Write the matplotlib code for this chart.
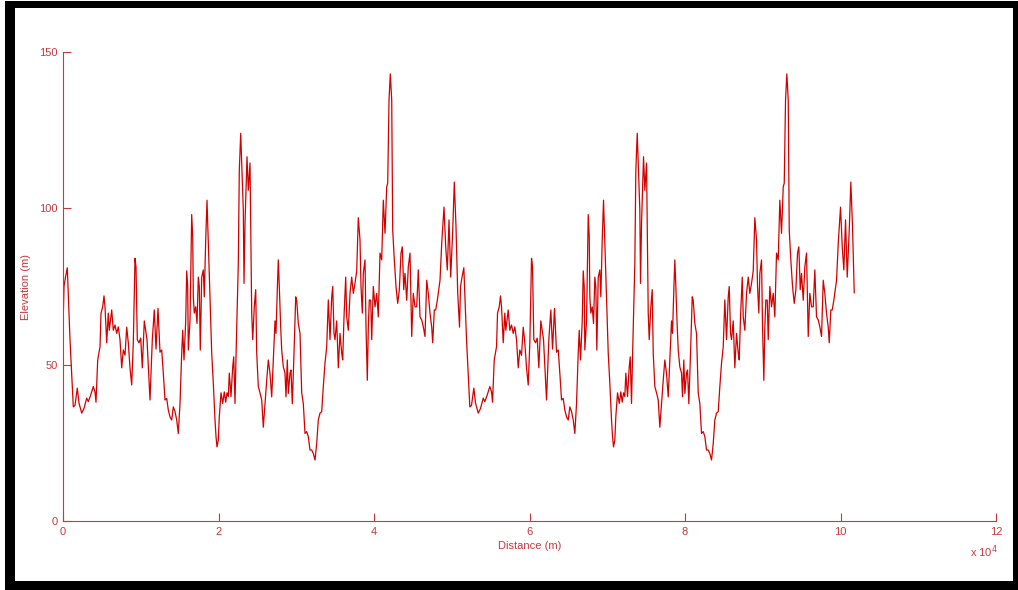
import matplotlib.pyplot as plt
import numpy as np
from matplotlib.patches import Rectangle

# one lap of the elevation profile: distance (m) and elevation (m)
lap_distance = [
    0, 129, 322, 553, 900, 1119, 1325, 1543, 1839, 2058, 2405, 2701, 3048, 3254,
    3563, 3897, 4116, 4244, 4463, 4759, 4888, 5106, 5273, 5402, 5621, 5826, 5955,
    6264, 6469, 6688, 6907, 7113, 7331, 7550, 7756, 7974, 8193, 8399, 8618, 8836,
    9042, 9261, 9389, 9556, 9775, 9994, 10199, 10457, 10637, 10804, 11190, 11486,
    11743, 11962, 12219, 12476, 12695, 12901, 13119, 13338, 13544, 13762, 13981,
    14187, 14405, 14624, 14830, 15049, 15267, 15396, 15563, 15782, 15910, 16039,
    16116, 16335, 16553, 16682, 16759, 16888, 17068, 17235, 17402, 17531, 17659,
    17840, 18045, 18174, 18354, 18521, 18688, 18907, 19126, 19332, 19550, 19679,
    19807, 19975, 20103, 20322, 20541, 20746, 20926, 21094, 21261, 21389, 21608,
    21827, 21955, 22122, 22251, 22418, 22547, 22675, 22856, 23023, 23190, 23280,
    23409, 23666, 23833, 24052, 24271, 24399, 24605, 24785, 24914, 25120, 25338,
    25557, 25763, 25981, 26200, 26406, 26624, 26843, 27049, 27267, 27396, 27563,
    27692, 27820, 28000, 28129, 28335, 28554, 28682, 28849, 28978, 29197, 29325,
    29492, 29711, 29930, 30058, 30264, 30483, 30701, 30907, 31126, 31344, 31550,
    31769, 31988, 32193, 32412, 32631, 32836, 33055, 33274, 33480, 33698, 33917,
    34123, 34342, 34560, 34689, 34856, 34985, 35203, 35409, 35628, 35846, 35975,
    36142, 36361, 36490, 36695, 36914, 37133, 37338, 37557, 37776, 37981, 38200,
    38329, 38496, 38625, 38843, 38972, 39139, 39268, 39397, 39577, 39705, 39911,
    40130, 40348, 40554, 40773, 40992, 41197, 41416, 41635, 41763, 41930, 42098,
    42278, 42406, 42612, 42830, 43049, 43255, 43474, 43641, 43821, 43988, 44207,
    44412, 44631, 44850, 45055, 45274, 45493, 45698, 45917, 46136, 46342, 46560,
    46779, 46985, 47204, 47422, 47551, 47757, 47937, 48143, 48490, 48709, 49005,
    49223, 49429, 49648, 49866, 50124, 50329, 50548, 50766,
]
lap_elevation = [
    62, 75, 78, 81, 58, 47, 36.5, 37, 42.5, 37.7, 34.5, 36, 39.3, 38.2,
    40.3, 43, 41.3, 38, 51.5, 55.7, 66.5, 68.5, 72, 68.5, 57, 66.5, 61,
    67.5, 61, 62.7, 60, 62.1, 58, 49, 54.7, 53, 62, 57, 49, 43.5,
    57, 84, 81.3, 58, 57, 58.5, 49, 64, 61, 58, 38.7, 58,
    67.5, 55, 68, 54, 54.7, 47.3, 38.7, 39.2, 35.5, 33.3, 32.3,
    36.5, 35, 32.3, 28, 37.6, 53.7, 61, 51.5, 64, 80, 75,
    54.7, 64, 98, 91, 71.7, 66.5, 68.5, 63.2, 78, 75, 54.7,
    78, 80.3, 71.7, 89.9, 102.6, 88.9, 70.7, 53.7, 44, 32.3, 27,
    23.7, 25.9, 33.4, 41, 37.6, 41.3, 38, 41, 39.8, 47.3, 39.8,
    49.3, 52.5, 37.6, 52.5, 69.6, 82.4, 112, 124, 112, 99.5, 76,
    95.2, 116.5, 105.8, 114.5, 66.5, 58, 68.5, 74, 53.7, 43, 41,
    38.7, 30, 37.6, 45, 51.5, 47.2, 39.7, 51.5, 64, 60, 74,
    83.5, 75, 62, 54.7, 49.3, 47.3, 39.7, 51.5, 40.8, 47.3, 48.3,
    37.5, 53.7, 71.7, 70.6, 63.2, 60, 41, 37.6, 28, 28.6, 27,
    22.7, 22.7, 21.6, 19.5, 24.8, 32.3, 34.5, 35, 43, 50.5, 55.7,
    70.7, 58, 71.7, 75, 60, 58, 64, 49, 60, 53.7, 51.5,
    65.3, 78, 65.3, 61, 72.8, 78, 72.8, 76, 80, 97, 89.9,
    75, 66.5, 79.2, 83.5, 62, 45, 62, 70.7, 70.6, 58, 75,
    68.5, 72.8, 65.3, 85.7, 83.5, 102.6, 92, 106.9, 108, 134.6, 143,
    134.6, 93, 83.5, 75, 69.6, 73.9, 85.7, 87.7, 74, 79.2, 70.6,
    81.3, 85.7, 59, 72.8, 68.5, 68.5, 80.3, 65.3, 64.3, 62.1, 59,
    77, 72.8, 66.4, 62, 57, 67.5, 67.5, 70.6, 77, 88.8, 100.4,
    87.7, 80.3, 96.3, 78, 93, 108.4, 94, 73,
]
lap_length = 51000  # m, the second lap starts here

x_ticks = [0, 20000, 40000, 60000, 80000, 100000, 120000]
x_tick_labels = ["0", "2", "4", "6", "8", "10", "12"]
y_ticks = [0, 50, 100, 150]

# two identical laps back to back
distance = np.concatenate([lap_distance, np.array(lap_distance) + lap_length])
elevation = np.concatenate([lap_elevation, lap_elevation])

red_axis = "#c8383c"
red_line = "#d40000"

plt.rcParams["font.family"] = ["Liberation Sans", "DejaVu Sans"]

W, H = 1018, 590
fig = plt.figure(figsize=(W / 100, H / 100), dpi=100)

# black frame: a black block with a white card on top of it
fig.patches.append(Rectangle((5 / W, 0), 1 - 5 / W, 1 - 1 / H,
                             transform=fig.transFigure, facecolor="black",
                             edgecolor="none", zorder=0))
fig.patches.append(Rectangle((15 / W, 9 / H), 998 / W, 573 / H,
                             transform=fig.transFigure, facecolor="white",
                             edgecolor="none", zorder=0))

ax = fig.add_axes([63 / W, 1 - 521 / H, 933 / W, 469 / H])
ax.set_zorder(2)
ax.patch.set_visible(False)

ax.plot(distance, elevation, color=red_line, lw=0.9)

ax.set_xlim(0, 120000)
ax.set_ylim(0, 150)
ax.set_xticks(x_ticks)
ax.set_xticklabels(x_tick_labels)
ax.set_yticks(y_ticks)

for side in ["top", "right"]:
    ax.spines[side].set_visible(False)
for side in ["left", "bottom"]:
    ax.spines[side].set_color(red_axis)
    ax.spines[side].set_linewidth(0.8)

ax.tick_params(direction="in", length=6, width=0.8, colors=red_axis,
               labelsize=8, pad=4)
ax.set_xlabel("Distance (m)", color=red_axis, fontsize=8, labelpad=3)
ax.set_ylabel("Elevation (m)", color=red_axis, fontsize=8, labelpad=6)

fig.text(998 / W, 1 - 552 / H, "x 10$^4$", color=red_axis, fontsize=8,
         ha="right", va="center", zorder=3)

fig.savefig("out.png", dpi=100)
